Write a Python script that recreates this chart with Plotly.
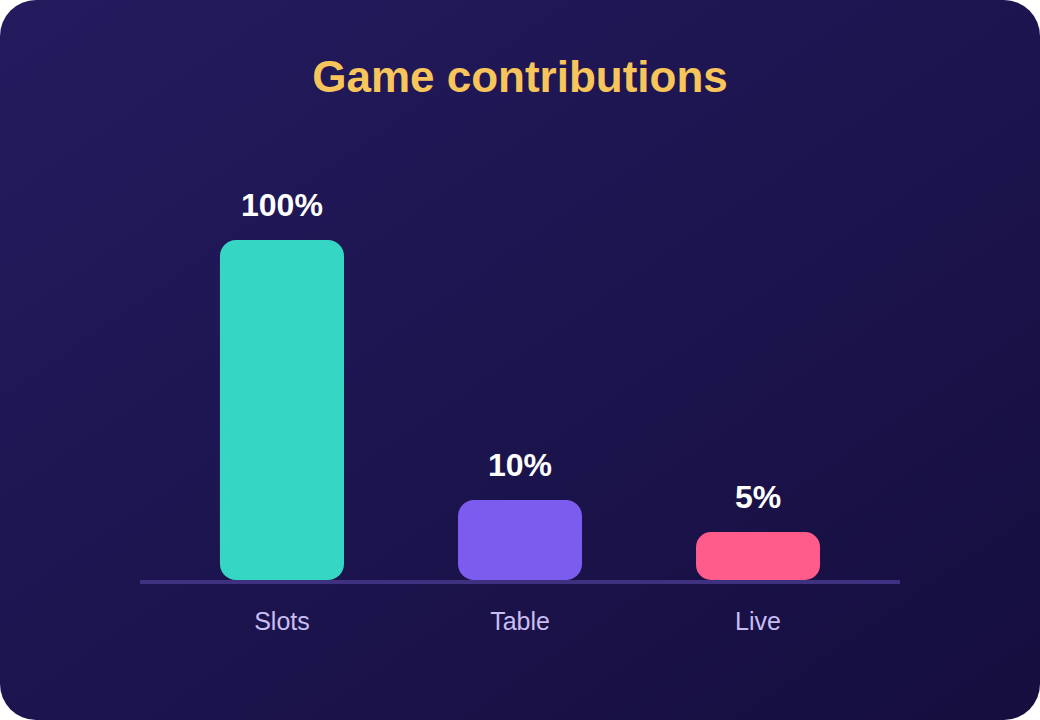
import base64
import plotly.graph_objects as go

# ---- data ----
categories = ["Slots", "Table", "Live"]
value_labels = ["100%", "10%", "5%"]
# bar heights as drawn in the picture (display scale, 0-100)
bar_heights = [100, 23.5, 14.1]
bar_colors = ["#35d7c4", "#7b5cef", "#ff5b8b"]

FONT = "Liberation Sans, Arial, sans-serif"
W, H = 1040, 720
PX_PER_UNIT = 3.4          # 100 units -> 340 px
RADIUS_PX = 16
r_units = RADIUS_PX / PX_PER_UNIT
BAR_WIDTH = 0.521

# background card with diagonal gradient and rounded corners
svg = (
    f"<svg xmlns='http://www.w3.org/2000/svg' width='{W}' height='{H}' viewBox='0 0 {W} {H}'>"
    "<defs><linearGradient id='g' x1='0' y1='0' x2='1' y2='1'>"
    "<stop offset='0' stop-color='#241b5f'/><stop offset='1' stop-color='#150e3e'/>"
    "</linearGradient></defs>"
    f"<rect x='0' y='0' width='{W}' height='{H}' rx='36' ry='36' fill='url(#g)'/></svg>"
)
bg_uri = "data:image/svg+xml;base64," + base64.b64encode(svg.encode()).decode()

fig = go.Figure()

bar_common = dict(x=categories, width=BAR_WIDTH, hoverinfo="skip")

# middle part: plain rectangle
fig.add_trace(go.Bar(
    y=[h - 2 * r_units for h in bar_heights],
    base=[r_units] * len(bar_heights),
    marker=dict(color=bar_colors, line=dict(width=0)),
    **bar_common,
))
# upper part: rounded top
fig.add_trace(go.Bar(
    y=[h - r_units for h in bar_heights],
    base=[r_units] * len(bar_heights),
    marker=dict(color=bar_colors, cornerradius=RADIUS_PX, line=dict(width=0)),
    **bar_common,
))
# lower part: rounded bottom
fig.add_trace(go.Bar(
    y=[-(h - r_units) for h in bar_heights],
    base=[h - r_units for h in bar_heights],
    marker=dict(color=bar_colors, cornerradius=RADIUS_PX, line=dict(width=0)),
    **bar_common,
))

for c, h, lab in zip(categories, bar_heights, value_labels):
    fig.add_annotation(
        x=c, y=h, text=f"<b>{lab}</b>", showarrow=False,
        yanchor="bottom", yshift=15,
        font=dict(family=FONT, size=32, color="#ffffff"),
    )

y_bottom_px = 580
y_top_units = 120
y_top_px = y_bottom_px - y_top_units * PX_PER_UNIT

fig.update_layout(
    width=W, height=H,
    margin=dict(l=0, r=0, t=0, b=0),
    paper_bgcolor="#ffffff",
    plot_bgcolor="rgba(0,0,0,0)",
    barmode="overlay",
    showlegend=False,
    images=[dict(source=bg_uri, xref="paper", yref="paper", x=0, y=1,
                 sizex=1, sizey=1, xanchor="left", yanchor="top",
                 sizing="stretch", layer="below")],
    title=dict(text="<b>Game contributions</b>", x=0.5, xanchor="center",
               y=1 - 77 / H, yanchor="middle",
               font=dict(family=FONT, size=44, color="#f7c55a")),
    xaxis=dict(
        domain=[140 / W, 900 / W],
        range=[-0.5965, 2.5965],
        showgrid=False, zeroline=False,
        showline=True, linecolor="#3d3180", linewidth=4,
        layer="below traces",
        ticks="", ticklabelstandoff=16,
        tickfont=dict(family=FONT, size=25, color="#c9bef2"),
        fixedrange=True,
    ),
    yaxis=dict(
        domain=[(H - y_bottom_px) / H, (H - y_top_px) / H],
        range=[0, y_top_units],
        showgrid=False, zeroline=False, showline=False,
        showticklabels=False, fixedrange=True,
    ),
)

fig.write_html("out.html")
